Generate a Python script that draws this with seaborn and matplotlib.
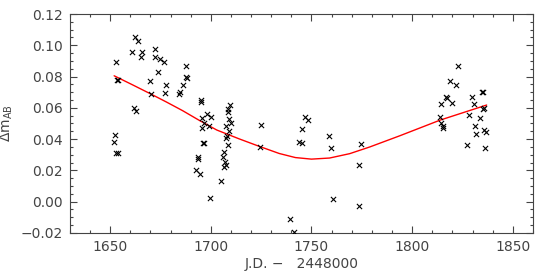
import numpy as np
import pandas as pd
import matplotlib.pyplot as plt
import seaborn as sns
from matplotlib.ticker import MultipleLocator

# observations: J.D. - 2448000 and delta m_AB
jd = [1662.2, 1663.7, 1661.1, 1665.8, 1665.2, 1653.1, 1672.5, 1672.2, 1675.0, 1676.8,
      1673.7, 1653.5, 1654.0, 1669.8, 1677.7, 1677.3, 1670.2,
      1661.7, 1663.1, 1652.4, 1651.7, 1652.8, 1654.0,
      1687.8, 1687.5, 1688.3, 1686.3, 1684.6, 1684.3, 1694.9, 1695.2, 1698.2, 1699.9,
      1695.7, 1696.4, 1695.4, 1699.1,
      1709.5, 1708.7, 1708.4, 1709.2, 1709.9, 1707.4, 1709.0, 1708.2, 1707.7,
      1696.0, 1696.6, 1693.4, 1693.7, 1692.8, 1694.4, 1699.7,
      1708.7, 1706.6, 1705.9, 1707.0, 1707.4, 1706.7, 1705.2,
      1725.0, 1724.3, 1739.1, 1741.3, 1746.6, 1748.4, 1745.1, 1743.6, 1745.4,
      1758.7, 1759.5, 1760.5, 1774.5, 1773.8, 1773.5,
      1822.6, 1818.6, 1822.0, 1817.0, 1817.5, 1814.5, 1820.0, 1829.6, 1830.6,
      1834.9, 1835.3, 1835.4, 1835.8, 1828.3, 1833.6, 1813.7, 1814.3, 1815.2,
      1815.5, 1831.1, 1831.8, 1835.7, 1836.7, 1827.3, 1836.2]
dm = [0.1051, 0.1029, 0.0955, 0.0955, 0.0923, 0.0893, 0.0974, 0.0923, 0.0912, 0.0895,
      0.0829, 0.0778, 0.0780, 0.0772, 0.0746, 0.0695, 0.0688,
      0.0597, 0.0578, 0.0424, 0.0382, 0.0309, 0.0309,
      0.0869, 0.0797, 0.0789, 0.0744, 0.0699, 0.0687, 0.0650, 0.0639, 0.0559, 0.0543,
      0.0537, 0.0501, 0.0469, 0.0486,
      0.0616, 0.0591, 0.0573, 0.0531, 0.0501, 0.0482, 0.0450, 0.0422, 0.0409,
      0.0373, 0.0375, 0.0284, 0.0271, 0.0203, 0.0175, 0.0022,
      0.0362, 0.0316, 0.0284, 0.0254, 0.0236, 0.0220, 0.0130,
      0.0492, 0.0350, -0.0111, -0.0192, 0.0540, 0.0520, 0.0465, 0.0384, 0.0375,
      0.0418, 0.0341, 0.0017, 0.0369, 0.0236, -0.0030,
      0.0870, 0.0772, 0.0746, 0.0667, 0.0661, 0.0623, 0.0633, 0.0671, 0.0623,
      0.0703, 0.0700, 0.0591, 0.0596, 0.0554, 0.0533, 0.0543, 0.0501, 0.0486,
      0.0469, 0.0484, 0.0433, 0.0458, 0.0444, 0.0360, 0.0345]

# fitted curve
fit_jd = [1652, 1661, 1670, 1678, 1686, 1694, 1703, 1714, 1724, 1734, 1742, 1750,
          1759, 1769, 1779, 1794, 1814, 1837]
fit_dm = [0.0805, 0.0748, 0.0690, 0.0637, 0.0582, 0.0522, 0.0458, 0.0402, 0.0354, 0.0308,
          0.0282, 0.0272, 0.0279, 0.0307, 0.0350, 0.0422, 0.0522, 0.0618]

df = pd.DataFrame({'jd': jd, 'dm': dm})
fit = pd.DataFrame({'jd': fit_jd, 'dm': fit_dm})

sns.set_style('ticks')
plt.rcParams['font.family'] = ['DejaVu Sans']
plt.rcParams['mathtext.fontset'] = 'dejavusans'
grey = '#444444'

fig = plt.figure(figsize=(5.5, 2.75), dpi=100)
ax = fig.add_axes([0.127, 0.153, 0.842, 0.796])

sns.lineplot(data=fit, x='jd', y='dm', color='red', lw=1.0, ax=ax, zorder=2)
sns.scatterplot(data=df, x='jd', y='dm', marker='x', color='black', s=14,
                linewidth=0.8, ax=ax, zorder=3)

ax.set_xlim(1630, 1860)
ax.set_ylim(-0.02, 0.12)
ax.xaxis.set_major_locator(MultipleLocator(50))
ax.xaxis.set_minor_locator(MultipleLocator(10))
ax.yaxis.set_major_locator(MultipleLocator(0.02))
ax.yaxis.set_minor_locator(MultipleLocator(0.005))
ax.yaxis.set_major_formatter(plt.FuncFormatter(lambda v, p: f'{v:.2f}'.replace('-', '\u2212')))
ax.tick_params(which='both', direction='in', top=True, right=True, color=grey,
               labelcolor=grey, labelsize=10, width=0.8)
ax.tick_params(which='major', length=5, pad=5)
ax.tick_params(which='minor', length=2.5)
for s in ax.spines.values():
    s.set_color(grey)
    s.set_linewidth(0.8)

ax.set_xlabel('J.D. \u2212   2448000', color=grey, fontsize=10, labelpad=2)
ax.set_ylabel(r'$\Delta$m$_{\rm AB}$', color=grey, fontsize=10)

fig.savefig('out.png', dpi=100)
